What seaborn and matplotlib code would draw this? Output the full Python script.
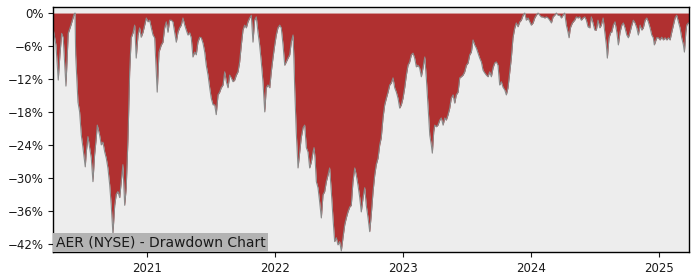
import matplotlib
matplotlib.use("Agg")
import matplotlib.pyplot as plt
import seaborn as sns
import pandas as pd
from matplotlib.ticker import FuncFormatter

title = "AER (NYSE) - Drawdown Chart"
year_ticks = [2021, 2022, 2023, 2024, 2025]
pct_ticks = [0, -6, -12, -18, -24, -30, -36, -42]

# time in decimal years
t = [
    2020.266, 2020.289, 2020.307, 2020.320, 2020.334, 2020.346, 2020.367, 2020.385, 2020.406, 2020.430,
    2020.438, 2020.443, 2020.461, 2020.474, 2020.487, 2020.500, 2020.518, 2020.526, 2020.539, 2020.552,
    2020.565, 2020.578, 2020.591, 2020.604, 2020.612, 2020.630, 2020.643, 2020.656, 2020.670, 2020.682,
    2020.695, 2020.709, 2020.721, 2020.734, 2020.748, 2020.760, 2020.773, 2020.787, 2020.799, 2020.812,
    2020.826, 2020.838, 2020.852, 2020.865, 2020.877, 2020.891,
    2020.904, 2020.916, 2020.930, 2020.943, 2020.955, 2020.969, 2020.982, 2020.995, 2021.008, 2021.021,
    2021.034, 2021.047, 2021.060, 2021.073, 2021.080, 2021.094, 2021.112, 2021.125, 2021.138, 2021.151,
    2021.164, 2021.177, 2021.190, 2021.203, 2021.216, 2021.229, 2021.242, 2021.255, 2021.268, 2021.281,
    2021.295, 2021.307, 2021.320, 2021.334, 2021.346, 2021.359, 2021.373, 2021.385, 2021.398, 2021.412,
    2021.424, 2021.438, 2021.451, 2021.463, 2021.477, 2021.490, 2021.502, 2021.516,
    2021.529, 2021.541, 2021.555, 2021.568, 2021.580, 2021.594, 2021.607, 2021.620, 2021.633, 2021.646,
    2021.659, 2021.672, 2021.685, 2021.698, 2021.711, 2021.724, 2021.737, 2021.750, 2021.763, 2021.776,
    2021.789, 2021.802, 2021.815, 2021.828, 2021.841, 2021.854, 2021.867, 2021.880, 2021.893, 2021.906,
    2021.920, 2021.932, 2021.945, 2021.959, 2021.971, 2021.984, 2021.998, 2022.010, 2022.023, 2022.037,
    2022.049, 2022.063, 2022.076, 2022.088, 2022.102, 2022.115, 2022.127, 2022.141,
    2022.148, 2022.154, 2022.166, 2022.180, 2022.193, 2022.205, 2022.219, 2022.232, 2022.245, 2022.258,
    2022.271, 2022.284, 2022.297, 2022.305, 2022.313, 2022.323, 2022.336, 2022.349, 2022.362, 2022.375,
    2022.388, 2022.401, 2022.414, 2022.427, 2022.440, 2022.453, 2022.466, 2022.479, 2022.492, 2022.505,
    2022.518, 2022.531, 2022.545, 2022.557, 2022.570, 2022.584, 2022.596, 2022.609, 2022.623, 2022.635,
    2022.648, 2022.662, 2022.674, 2022.688, 2022.701, 2022.713, 2022.727, 2022.740, 2022.752, 2022.766,
    2022.779, 2022.791, 2022.805, 2022.818, 2022.830, 2022.844, 2022.857, 2022.870, 2022.883, 2022.896,
    2022.909, 2022.922, 2022.935, 2022.948, 2022.961, 2022.974, 2022.987, 2023.000, 2023.013, 2023.026,
    2023.039, 2023.052, 2023.065, 2023.078, 2023.091, 2023.104, 2023.117, 2023.130, 2023.143, 2023.156,
    2023.170, 2023.182, 2023.195, 2023.209, 2023.221, 2023.229, 2023.240, 2023.248, 2023.260, 2023.273,
    2023.287, 2023.299, 2023.313, 2023.326, 2023.338, 2023.352, 2023.365, 2023.377, 2023.391,
    2023.404, 2023.416, 2023.430, 2023.443, 2023.455, 2023.469, 2023.482, 2023.495, 2023.508, 2023.521,
    2023.534, 2023.547, 2023.560, 2023.573, 2023.586, 2023.599, 2023.612, 2023.625, 2023.638, 2023.651,
    2023.664, 2023.677, 2023.690, 2023.703, 2023.716, 2023.729, 2023.742, 2023.755, 2023.768, 2023.781,
    2023.795, 2023.807, 2023.820, 2023.834, 2023.846, 2023.859, 2023.873, 2023.885, 2023.898, 2023.912,
    2023.924, 2023.938, 2023.951, 2023.963, 2023.977, 2023.990, 2024.002, 2024.016,
    2024.029, 2024.041, 2024.055, 2024.068, 2024.080, 2024.094, 2024.107, 2024.120, 2024.133, 2024.146,
    2024.159, 2024.172, 2024.185, 2024.198, 2024.211, 2024.224, 2024.237, 2024.250, 2024.263, 2024.276,
    2024.289, 2024.297, 2024.307, 2024.323, 2024.341, 2024.354, 2024.367, 2024.380, 2024.393, 2024.406,
    2024.420, 2024.432, 2024.445, 2024.459, 2024.471, 2024.484, 2024.498, 2024.510, 2024.523, 2024.537,
    2024.549, 2024.563, 2024.576, 2024.588, 2024.596, 2024.609, 2024.623,
    2024.630, 2024.643, 2024.656, 2024.670, 2024.682, 2024.695, 2024.709, 2024.721, 2024.734, 2024.748,
    2024.760, 2024.773, 2024.787, 2024.799, 2024.812, 2024.826, 2024.838, 2024.852, 2024.865, 2024.877,
    2024.891, 2024.904, 2024.916, 2024.930, 2024.943, 2024.955, 2024.963, 2024.982, 2024.994, 2025.008,
    2025.021, 2025.034, 2025.047, 2025.060, 2025.073, 2025.086, 2025.099, 2025.112, 2025.125, 2025.138,
    2025.151, 2025.164, 2025.177, 2025.190, 2025.198, 2025.209, 2025.216, 2025.229, 2025.234,
]

# drawdown in percent
drawdown = [
    -2.7, -5.8, -12.2, -7.6, -3.7, -4.5, -13.3, -3.7, -2.2, -0.3,
    0.0, -7.6, -16.2, -18.0, -22.2, -24.5, -28.0, -25.3, -22.5, -24.5,
    -26.4, -30.7, -25.8, -22.7, -20.4, -22.2, -24.0, -23.5, -25.3, -26.4,
    -28.2, -31.3, -35.0, -40.2, -35.0, -33.0, -32.5, -33.6, -30.7, -27.6,
    -35.0, -31.8, -22.7, -10.7, -4.5, -3.6,
    -2.2, -8.2, -4.0, -2.7, -4.4, -3.5, -2.2, -0.9, -1.6, -1.3,
    -2.7, -4.0, -4.5, -10.7, -14.4, -7.1, -5.8, -5.3, -2.7, -1.6,
    -3.5, -1.3, -1.3, -1.6, -3.5, -5.3, -3.5, -2.7, -2.2, -0.9,
    -2.2, -3.1, -4.0, -3.6, -4.5, -8.0, -7.1, -7.6, -5.3, -4.4,
    -4.5, -5.5, -7.1, -9.5, -11.3, -13.6, -15.5, -16.7,
    -16.7, -18.5, -14.9, -14.4, -13.6, -13.1, -10.7, -12.5, -13.6, -11.3,
    -11.8, -12.5, -12.2, -11.3, -10.7, -8.9, -5.8, -3.1, -2.2, -2.7,
    -1.6, -0.9, -0.4, -5.3, -1.3, -0.7, -3.5, -5.8, -8.9, -12.5,
    -18.0, -13.6, -13.1, -13.6, -10.7, -8.2, -5.8, -4.0, -2.7, -2.2,
    -2.7, -5.8, -9.5, -8.9, -8.2, -7.6, -5.3, -4.0,
    -8.5, -13.7, -21.6, -28.2, -25.3, -22.7, -20.9, -20.4, -24.5, -25.3,
    -28.2, -27.1, -25.3, -24.5, -26.4, -30.7, -31.8, -34.4, -37.3, -33.1,
    -32.5, -30.7, -29.5, -28.2, -32.5, -37.3, -41.6, -40.9, -42.2, -41.6,
    -43.3, -40.9, -38.5, -37.3, -36.2, -35.3, -35.0, -30.7, -28.2, -29.5,
    -31.3, -33.6, -36.2, -33.6, -31.8, -35.0, -37.3, -39.8, -36.7, -32.5,
    -29.5, -27.6, -26.4, -24.0, -22.7, -19.0, -16.7, -15.5, -14.4, -13.1,
    -12.7, -11.8, -13.6, -14.4, -15.5, -17.3, -16.7, -15.5, -13.6, -11.3,
    -9.5, -8.9, -7.6, -7.3, -8.2, -9.8, -9.5, -10.0, -11.6, -10.0,
    -8.0, -11.8, -16.7, -22.2, -24.0, -25.5, -21.6, -20.4, -20.7, -20.4,
    -19.5, -19.1, -20.4, -19.1, -19.5, -18.5, -17.3, -15.5, -14.9,
    -16.4, -14.9, -14.4, -11.8, -11.6, -11.3, -10.7, -9.5, -9.1, -7.6,
    -7.1, -4.9, -5.8, -6.4, -7.3, -8.2, -8.9, -10.4, -10.9, -11.3,
    -11.6, -10.7, -11.6, -10.0, -9.1, -8.9, -9.5, -13.1, -12.5, -13.5,
    -14.0, -14.9, -13.6, -10.7, -8.2, -4.5, -2.7, -1.8, -2.5, -1.6,
    -1.3, -0.4, 0.0, -1.3, -0.9, -1.6, -2.2, -1.8,
    -0.9, -0.4, 0.0, -0.4, -0.7, -0.7, -0.9, -0.7, -0.9, -1.3,
    -1.8, -0.7, -0.4, 0.0, -0.4, -0.4, -0.9, -0.4, 0.0, -2.2,
    -3.5, -4.5, -2.7, -1.8, -1.3, -0.7, -0.9, -0.7, -1.3, -0.9,
    -0.7, -1.3, -2.5, -2.7, -0.7, -1.8, -3.1, -3.1, -1.3, -2.7,
    -2.2, -0.9, -3.5, -5.8, -8.2, -4.5, -3.5,
    -3.5, -2.2, -1.6, -3.5, -5.8, -3.5, -2.2, -1.8, -2.7, -4.0,
    -4.5, -3.5, -2.2, -1.3, -1.8, -2.7, -4.0, -2.2, -3.1, -2.7,
    -1.3, -0.9, -1.6, -2.7, -4.0, -4.5, -5.8, -4.5, -4.5, -4.9,
    -4.4, -4.9, -4.5, -4.9, -4.5, -4.9, -3.5, -2.2, -0.9, -0.4,
    -1.6, -2.7, -4.5, -5.8, -7.1, -3.5, -2.2, -1.8, -1.9,
]

df = pd.DataFrame({"t": t, "dd": drawdown})

sns.set_style("white")
plt.rcParams["font.family"] = ["DejaVu Sans"]

fig = plt.figure(figsize=(7, 2.8), dpi=100)
ax = fig.add_axes([0.0757, 0.1, 0.9086, 0.875])
ax.set_facecolor("#ededed")

ax.fill_between(df["t"], df["dd"], 0, color="#b03030", linewidth=0)
sns.lineplot(data=df, x="t", y="dd", ax=ax, color="#8a8a8a", linewidth=0.8)

ax.set_xlim(df["t"].min(), df["t"].max())
ax.set_ylim(-43.5, 1.1)
ax.set_xticks(year_ticks)
ax.set_xticklabels([str(y) for y in year_ticks])
ax.set_yticks(pct_ticks)
ax.yaxis.set_major_formatter(FuncFormatter(lambda v, p: f"{int(v)}%".replace("-", "\u2212")))
ax.set_xlabel("")
ax.set_ylabel("")
ax.tick_params(axis="both", which="major", labelsize=8.5, length=3.5, width=0.8,
               direction="out", left=True, bottom=True, colors="#1a1a1a")
for s in ax.spines.values():
    s.set_visible(True)
    s.set_color("black")
    s.set_linewidth(1.0)

ax.text(0.0045, 0.012, title, transform=ax.transAxes, ha="left", va="bottom",
        fontsize=10, color="#1a1a1a",
        bbox=dict(boxstyle="square,pad=0.18", facecolor="#b3b3b3", edgecolor="none"))

fig.savefig("out.png", dpi=100)
